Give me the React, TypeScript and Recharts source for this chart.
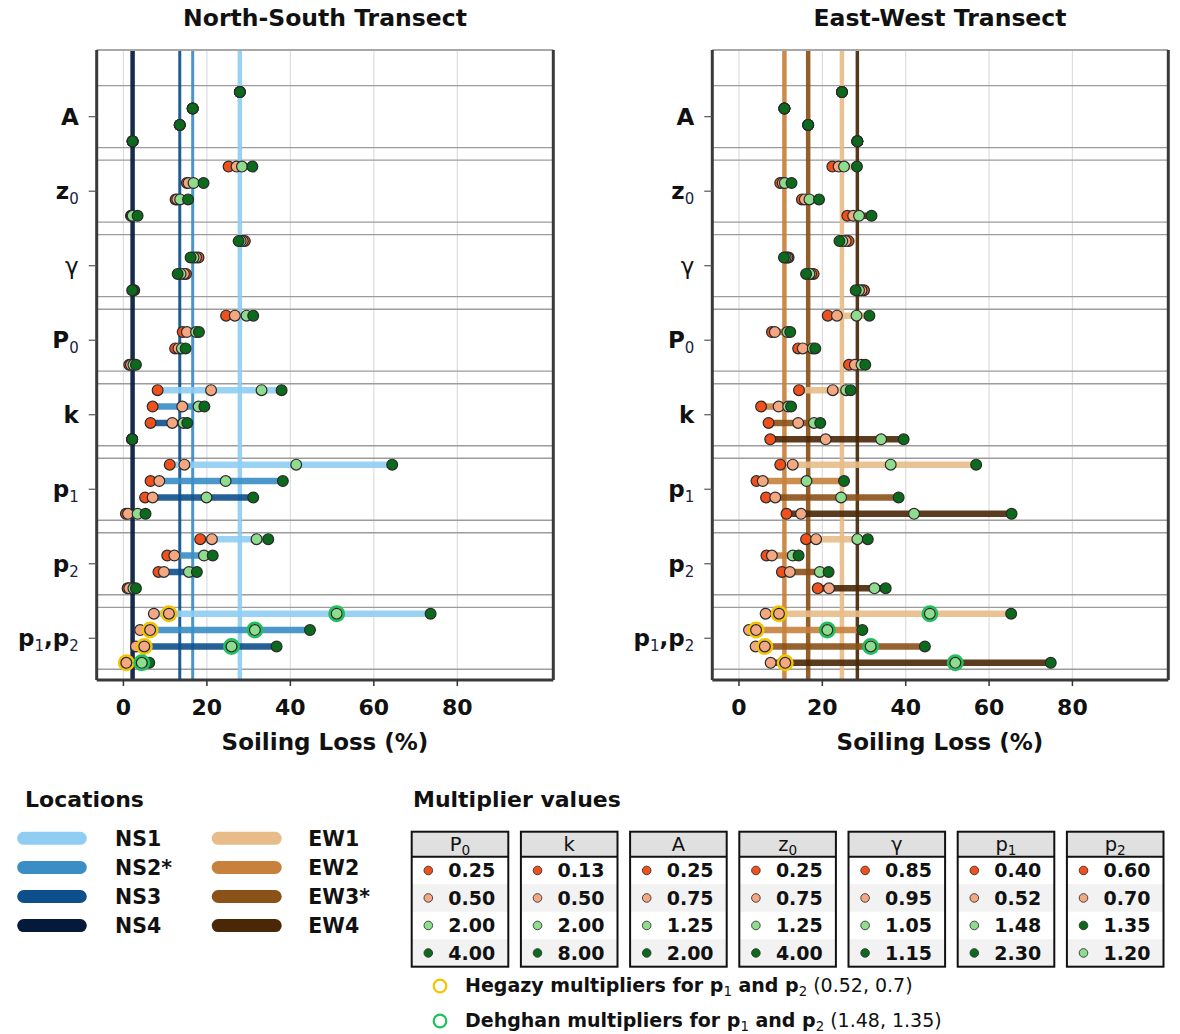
import React from 'react';
import { ScatterChart, XAxis, YAxis, CartesianGrid, Scatter, ReferenceLine } from 'recharts';

// ---- parameter groups (top to bottom) ----
const groupLabels: [string, string, string?][][] = [
  [['A', '']],
  [['z', '0']],
  [['γ', '', 'normal']],
  [['P', '0']],
  [['k', '']],
  [['p', '1']],
  [['p', '2']],
  [['p', '1'], [',', ''], ['p', '2']],
];

// ---- multiplier colours: low, mid-low, mid-high, high ----
const multiplierColors = ['#F0501C', '#F4A882', '#8FDC8E', '#0C6A1C'];
// colour index of each of the four dots in a row, per group
const dotColorOrder = [
  [0, 1, 2, 3], [0, 1, 2, 3], [0, 1, 2, 3], [0, 1, 2, 3],
  [0, 1, 2, 3], [0, 1, 2, 3], [0, 1, 2, 3], [1, 1, 2, 3],
];
const HEGAZY = '#F5C400';
const DEHGHAN = '#1FC25A';
// ring colour for each dot of the combined p1,p2 group
const p1p2Rings = [null, HEGAZY, DEHGHAN, null];

// ---- locations ----
const nsLocations = ['NS1', 'NS2*', 'NS3', 'NS4'];
const ewLocations = ['EW1', 'EW2', 'EW3*', 'EW4'];
const nsColors = ['#8FCDF3', '#3A8DC5', '#0D4F8B', '#05193B'];
const ewColors = ['#E8BC88', '#C7813D', '#8A5119', '#4A2707'];
const nsBaseline = [27.9, 16.6, 13.5, 2.2];
const ewBaseline = [24.7, 10.9, 16.6, 28.4];

// ---- soiling loss (%) per group: rows = locations, cols = four multipliers ----
const nsA = [[27.9, 27.9, 27.9, 27.9], [16.6, 16.6, 16.6, 16.6], [13.5, 13.5, 13.5, 13.5], [2.2, 2.2, 2.2, 2.2]];
const nsZ0 = [[25.2, 27.1, 28.4, 30.9], [15.2, 15.6, 16.8, 19.2], [12.5, 12.9, 13.6, 15.5], [1.8, 2.0, 2.2, 3.4]];
const nsGamma = [[29.1, 28.6, 28.1, 27.6], [18.0, 17.4, 16.8, 16.1], [15.0, 14.5, 13.7, 13.0], [2.6, 2.4, 2.3, 2.1]];
const nsP0 = [[24.6, 26.7, 29.5, 31.1], [14.2, 15.2, 17.4, 18.1], [12.4, 13.2, 14.0, 14.9], [1.4, 1.8, 2.4, 3.0]];
const nsK = [[8.2, 21.0, 33.1, 37.9], [7.0, 14.1, 18.0, 19.4], [6.5, 11.7, 14.4, 15.3], [2.1, 2.1, 2.1, 2.1]];
const nsP1 = [[11.1, 14.6, 41.4, 64.4], [6.5, 8.6, 24.5, 38.2], [5.2, 7.0, 19.9, 31.1], [0.6, 1.1, 3.4, 5.3]];
const nsP2 = [[18.4, 21.2, 31.9, 34.7], [10.5, 12.2, 19.3, 21.4], [8.4, 9.7, 15.7, 17.6], [1.0, 1.4, 2.4, 3.0]];
const nsP1P2 = [[7.3, 10.9, 51.1, 73.6], [4.0, 6.4, 31.5, 44.7], [3.0, 5.0, 25.9, 36.7], [0.3, 0.7, 4.4, 6.2]];

const ewA = [[24.7, 24.7, 24.7, 24.7], [10.9, 10.9, 10.9, 10.9], [16.6, 16.6, 16.6, 16.6], [28.4, 28.4, 28.4, 28.4]];
const ewZ0 = [[22.4, 23.9, 25.2, 28.3], [9.9, 10.5, 11.0, 12.6], [15.1, 15.8, 16.9, 19.2], [26.0, 27.4, 28.8, 31.8]];
const ewGamma = [[26.3, 25.6, 24.8, 24.1], [11.9, 11.6, 11.2, 10.8], [17.9, 17.3, 16.9, 16.1], [30.0, 29.4, 28.8, 28.0]];
const ewP0 = [[21.3, 23.5, 28.2, 31.3], [7.9, 8.6, 11.6, 12.3], [14.2, 15.3, 17.7, 18.3], [26.4, 27.8, 29.4, 30.3]];
const ewK = [[14.4, 22.5, 25.7, 26.8], [5.3, 9.5, 11.8, 12.5], [7.1, 14.2, 18.0, 19.5], [7.5, 20.8, 34.1, 39.5]];
const ewP1 = [[9.9, 12.9, 36.4, 56.9], [4.2, 5.7, 16.2, 25.2], [6.5, 8.7, 24.5, 38.3], [11.4, 14.9, 42.0, 65.4]];
const ewP2 = [[16.1, 18.5, 28.4, 30.9], [6.6, 7.9, 12.9, 14.3], [10.3, 12.2, 19.4, 21.5], [18.9, 21.6, 32.5, 35.2]];
const ewP1P2 = [[6.4, 9.6, 45.8, 65.3], [2.4, 4.1, 21.2, 29.6], [4.0, 6.2, 31.6, 44.6], [7.6, 11.1, 51.9, 74.8]];

const nsGroups = [nsA, nsZ0, nsGamma, nsP0, nsK, nsP1, nsP2, nsP1P2];
const ewGroups = [ewA, ewZ0, ewGamma, ewP0, ewK, ewP1, ewP2, ewP1P2];

// ---- multiplier tables ----
const tableParams: [string, string][] = [['P', '0'], ['k', ''], ['A', ''], ['z', '0'], ['γ', ''], ['p', '1'], ['p', '2']];
const tableValues = [
  ['0.25', '0.50', '2.00', '4.00'],
  ['0.13', '0.50', '2.00', '8.00'],
  ['0.25', '0.75', '1.25', '2.00'],
  ['0.25', '0.75', '1.25', '4.00'],
  ['0.85', '0.95', '1.05', '1.15'],
  ['0.40', '0.52', '1.48', '2.30'],
  ['0.60', '0.70', '1.35', '1.20'],
];
const tableColorIdx = [
  [0, 1, 2, 3], [0, 1, 2, 3], [0, 1, 2, 3], [0, 1, 2, 3], [0, 1, 2, 3], [0, 1, 2, 3], [0, 1, 3, 2],
];

// ---- layout constants ----
const FONT = 'DejaVu Sans';
const X_DOMAIN: [number, number] = [-6.4, 103];
const X_TICKS = [0, 20, 40, 60, 80];
const Y_DOMAIN: [number, number] = [-0.895, 7.56];
const Y_TICKS = [0, 1, 2, 3, 4, 5, 6, 7];
const ROW_STEP = 0.22;
const SEP_HALF = 0.416;
const PLOT_BOTTOM = 680;
const CHART_H = 760;
const DOT_R = 5.4;

const XTick = (props: any) => {
  const { x, payload } = props;
  return (
    <text x={x} y={PLOT_BOTTOM + 35} textAnchor="middle" fontFamily={FONT} fontWeight="bold" fontSize={22} fill="#111">
      {payload.value}
    </text>
  );
};

const YTick = (props: any) => {
  const { x, y, payload } = props;
  const segs = groupLabels[payload.value] || [];
  const spans: React.ReactNode[] = [];
  let lowered = false;
  segs.forEach(([base, sub, weight], i) => {
    spans.push(
      <tspan key={`b${i}`} fontWeight={weight || 'bold'} fontSize={23} dy={lowered ? -5 : 0}>
        {base}
      </tspan>
    );
    lowered = false;
    if (sub) {
      spans.push(
        <tspan key={`s${i}`} fontWeight="normal" fontSize={15} dy={5} fill="#1a2240">
          {sub}
        </tspan>
      );
      lowered = true;
    }
  });
  return (
    <text x={x} y={y + 8} textAnchor="end" fontFamily={FONT} fill="#111">
      {spans}
    </text>
  );
};

const renderDot = (props: any) => {
  const { cx, cy, payload } = props;
  return <circle cx={cx} cy={cy} r={DOT_R} fill={payload.fill} stroke="#2a2a2a" strokeWidth={1.2} />;
};

const renderRingDot = (props: any) => {
  const { cx, cy, payload } = props;
  return (
    <g>
      <circle cx={cx} cy={cy} r={7.2} fill="none" stroke={payload.ring} strokeWidth={2.6} />
      <circle cx={cx} cy={cy} r={DOT_R} fill={payload.fill} stroke="#2a2a2a" strokeWidth={1.2} />
    </g>
  );
};

type PanelProps = {
  groups: number[][][];
  colors: string[];
  baseline: number[];
  lineWidths: number[];
  width: number;
  margin: { top: number; right: number; bottom: number; left: number };
};

function Panel({ groups, colors, baseline, lineWidths, width, margin }: PanelProps) {
  const rows: { y: number; lo: number; hi: number; color: string }[] = [];
  const dotSeries: any[][] = [[], [], [], []];
  const highlight: any[] = [];
  groups.forEach((group, g) => {
    group.forEach((vals, l) => {
      const y = g + (l - 1.5) * ROW_STEP;
      rows.push({ y, lo: Math.min(...vals), hi: Math.max(...vals), color: colors[l] });
      vals.forEach((v, m) => {
        const pt: any = { x: v, y, fill: multiplierColors[dotColorOrder[g][m]] };
        const ring = g === groups.length - 1 ? p1p2Rings[m] : null;
        if (ring) highlight.push({ ...pt, ring });
        else dotSeries[m].push(pt);
      });
    });
  });
  const separators: number[] = [];
  Y_TICKS.forEach((g) => separators.push(g - SEP_HALF, g + SEP_HALF));

  return (
    <ScatterChart width={width} height={CHART_H} margin={margin}>
      <CartesianGrid horizontal={false} stroke="#dddddd" strokeWidth={1.2} />
      <XAxis
        type="number"
        dataKey="x"
        domain={X_DOMAIN}
        ticks={X_TICKS}
        allowDataOverflow
        interval={0}
        axisLine={false}
        tickSize={6}
        tickLine={{ stroke: '#333', strokeWidth: 1.5 }}
        tick={<XTick />}
        height={50}
      />
      <YAxis
        type="number"
        dataKey="y"
        domain={Y_DOMAIN}
        reversed
        ticks={Y_TICKS}
        allowDataOverflow
        interval={0}
        axisLine={false}
        tickSize={8}
        tickMargin={10}
        tickLine={{ stroke: '#555', strokeWidth: 1.2 }}
        tick={<YTick />}
        width={60}
      />
      {separators.map((y, i) => (
        <ReferenceLine key={`sep${i}`} y={y} stroke="#9c9c9c" strokeWidth={1.3} />
      ))}
      {baseline.map((b, i) => (
        <ReferenceLine key={`base${i}`} x={b} stroke={colors[i]} strokeWidth={lineWidths[i]} strokeOpacity={0.92} />
      ))}
      {rows.map((r, i) => (
        <ReferenceLine
          key={`row${i}`}
          segment={[{ x: r.lo, y: r.y }, { x: r.hi, y: r.y }]}
          stroke={r.color}
          strokeWidth={6.5}
          strokeOpacity={0.9}
        />
      ))}
      {dotSeries.map((d, m) => (
        <Scatter key={`dots${m}`} data={d} shape={renderDot} isAnimationActive={false} />
      ))}
      <Scatter data={highlight} shape={renderRingDot} isAnimationActive={false} />
      <ReferenceLine y={Y_DOMAIN[0]} stroke="#a8a8a8" strokeWidth={2} />
      <ReferenceLine x={X_DOMAIN[0]} stroke="#3a3a3a" strokeWidth={3} />
      <ReferenceLine x={X_DOMAIN[1]} stroke="#3a3a3a" strokeWidth={3} />
      <ReferenceLine y={Y_DOMAIN[1]} stroke="#3a3a3a" strokeWidth={3} />
    </ScatterChart>
  );
}

function SubText({ x, y, parts, size, weight, anchor }: any) {
  // parts: [text, subscript?, weight?][]
  const spans: React.ReactNode[] = [];
  let lowered = false;
  parts.forEach(([t, s, w]: any, i: number) => {
    spans.push(
      <tspan key={`t${i}`} dy={lowered ? -4 : 0} fontWeight={w || weight}>
        {t}
      </tspan>
    );
    lowered = false;
    if (s) {
      spans.push(
        <tspan key={`s${i}`} dy={4} fontSize={size * 0.7} fontWeight="normal">
          {s}
        </tspan>
      );
      lowered = true;
    }
  });
  return (
    <text x={x} y={y} fontFamily={FONT} fontSize={size} fill="#111" textAnchor={anchor || 'start'}>
      {spans}
    </text>
  );
}

function Legends() {
  const rowY = (i: number) => 838.3 + i * 29.1;
  const tableX = (i: number) => 411.7 + i * 109.2;
  const TW = 96.6;
  const TOP = 831.7;
  const HEAD = 25;
  const RH = 27.5;
  return (
    <svg width={1180} height={1034} style={{ position: 'absolute', left: 0, top: 0 }}>
      {/* panel titles and axis labels */}
      <text x={325} y={26} textAnchor="middle" fontFamily={FONT} fontWeight="bold" fontSize={23.5} fill="#111">
        North-South Transect
      </text>
      <text x={940} y={26} textAnchor="middle" fontFamily={FONT} fontWeight="bold" fontSize={23.5} fill="#111">
        East-West Transect
      </text>
      <text x={325} y={750} textAnchor="middle" fontFamily={FONT} fontWeight="bold" fontSize={23} fill="#111">
        Soiling Loss (%)
      </text>
      <text x={940} y={750} textAnchor="middle" fontFamily={FONT} fontWeight="bold" fontSize={23} fill="#111">
        Soiling Loss (%)
      </text>

      {/* locations legend */}
      <text x={25} y={807} fontFamily={FONT} fontWeight="bold" fontSize={22} fill="#111">
        Locations
      </text>
      {nsLocations.map((name, i) => (
        <g key={name}>
          <line x1={23.7} x2={80.3} y1={rowY(i)} y2={rowY(i)} stroke={nsColors[i]} strokeWidth={13} strokeLinecap="round" />
          <text x={115} y={rowY(i) + 7.5} fontFamily={FONT} fontWeight="bold" fontSize={20.5} fill="#111">
            {name}
          </text>
        </g>
      ))}
      {ewLocations.map((name, i) => (
        <g key={name}>
          <line x1={218.2} x2={275.2} y1={rowY(i)} y2={rowY(i)} stroke={ewColors[i]} strokeWidth={13} strokeLinecap="round" />
          <text x={308.3} y={rowY(i) + 7.5} fontFamily={FONT} fontWeight="bold" fontSize={20.5} fill="#111">
            {name}
          </text>
        </g>
      ))}

      {/* multiplier tables */}
      <text x={413} y={807} fontFamily={FONT} fontWeight="bold" fontSize={22} fill="#111">
        Multiplier values
      </text>
      {tableParams.map(([p, s], t) => {
        const x0 = tableX(t);
        return (
          <g key={`tab${t}`}>
            <rect x={x0} y={TOP} width={TW} height={HEAD} fill="#e0e0e0" />
            {[1, 3].map((r) => (
              <rect key={r} x={x0} y={TOP + HEAD + r * RH} width={TW} height={RH} fill="#f2f2f2" />
            ))}
            <SubText x={x0 + TW / 2} y={TOP + 19} parts={[[p, s]]} size={19.5} weight="normal" anchor="middle" />
            {tableValues[t].map((v, r) => {
              const cy = TOP + HEAD + r * RH + RH / 2;
              return (
                <g key={`v${r}`}>
                  <circle cx={x0 + 16.6} cy={cy} r={4.3} fill={multiplierColors[tableColorIdx[t][r]]} stroke="#333" strokeWidth={0.9} />
                  <text x={x0 + 36.6} y={cy + 7} fontFamily={FONT} fontWeight="bold" fontSize={19} fill="#111">
                    {v}
                  </text>
                </g>
              );
            })}
            <line x1={x0} x2={x0 + TW} y1={TOP + HEAD} y2={TOP + HEAD} stroke="#111" strokeWidth={2} />
            <rect x={x0} y={TOP} width={TW} height={HEAD + 4 * RH} fill="none" stroke="#111" strokeWidth={2} />
          </g>
        );
      })}

      {/* highlighted multiplier pairs */}
      <circle cx={440} cy={986} r={6.3} fill="none" stroke={HEGAZY} strokeWidth={2.2} />
      <SubText
        x={465}
        y={992}
        size={19}
        weight="bold"
        parts={[['Hegazy multipliers for p', '1'], [' and p', '2'], [' (0.52, 0.7)', '', 'normal']]}
      />
      <circle cx={440} cy={1021} r={6.3} fill="none" stroke={DEHGHAN} strokeWidth={2.2} />
      <SubText
        x={465}
        y={1027}
        size={19}
        weight="bold"
        parts={[['Dehghan multipliers for p', '1'], [' and p', '2'], [' (1.48, 1.35)', '', 'normal']]}
      />
    </svg>
  );
}

export default function App() {
  return (
    <div style={{ position: 'absolute', left: 0, top: 0, width: 1180, height: 1034, background: '#fff', overflow: 'hidden' }}>
      <Legends />
      <div style={{ position: 'absolute', left: 0, top: 0 }}>
        <Panel
          groups={nsGroups}
          colors={nsColors}
          baseline={nsBaseline}
          lineWidths={[4.5, 3, 3, 4.5]}
          width={570}
          margin={{ top: 50, right: 16.7, bottom: CHART_H - PLOT_BOTTOM - 50, left: 36.7 }}
        />
      </div>
      <div style={{ position: 'absolute', left: 620, top: 0 }}>
        <Panel
          groups={ewGroups}
          colors={ewColors}
          baseline={ewBaseline}
          lineWidths={[4.5, 4.5, 4.5, 3.5]}
          width={560}
          margin={{ top: 50, right: 11.7, bottom: CHART_H - PLOT_BOTTOM - 50, left: 32.3 }}
        />
      </div>
    </div>
  );
}
